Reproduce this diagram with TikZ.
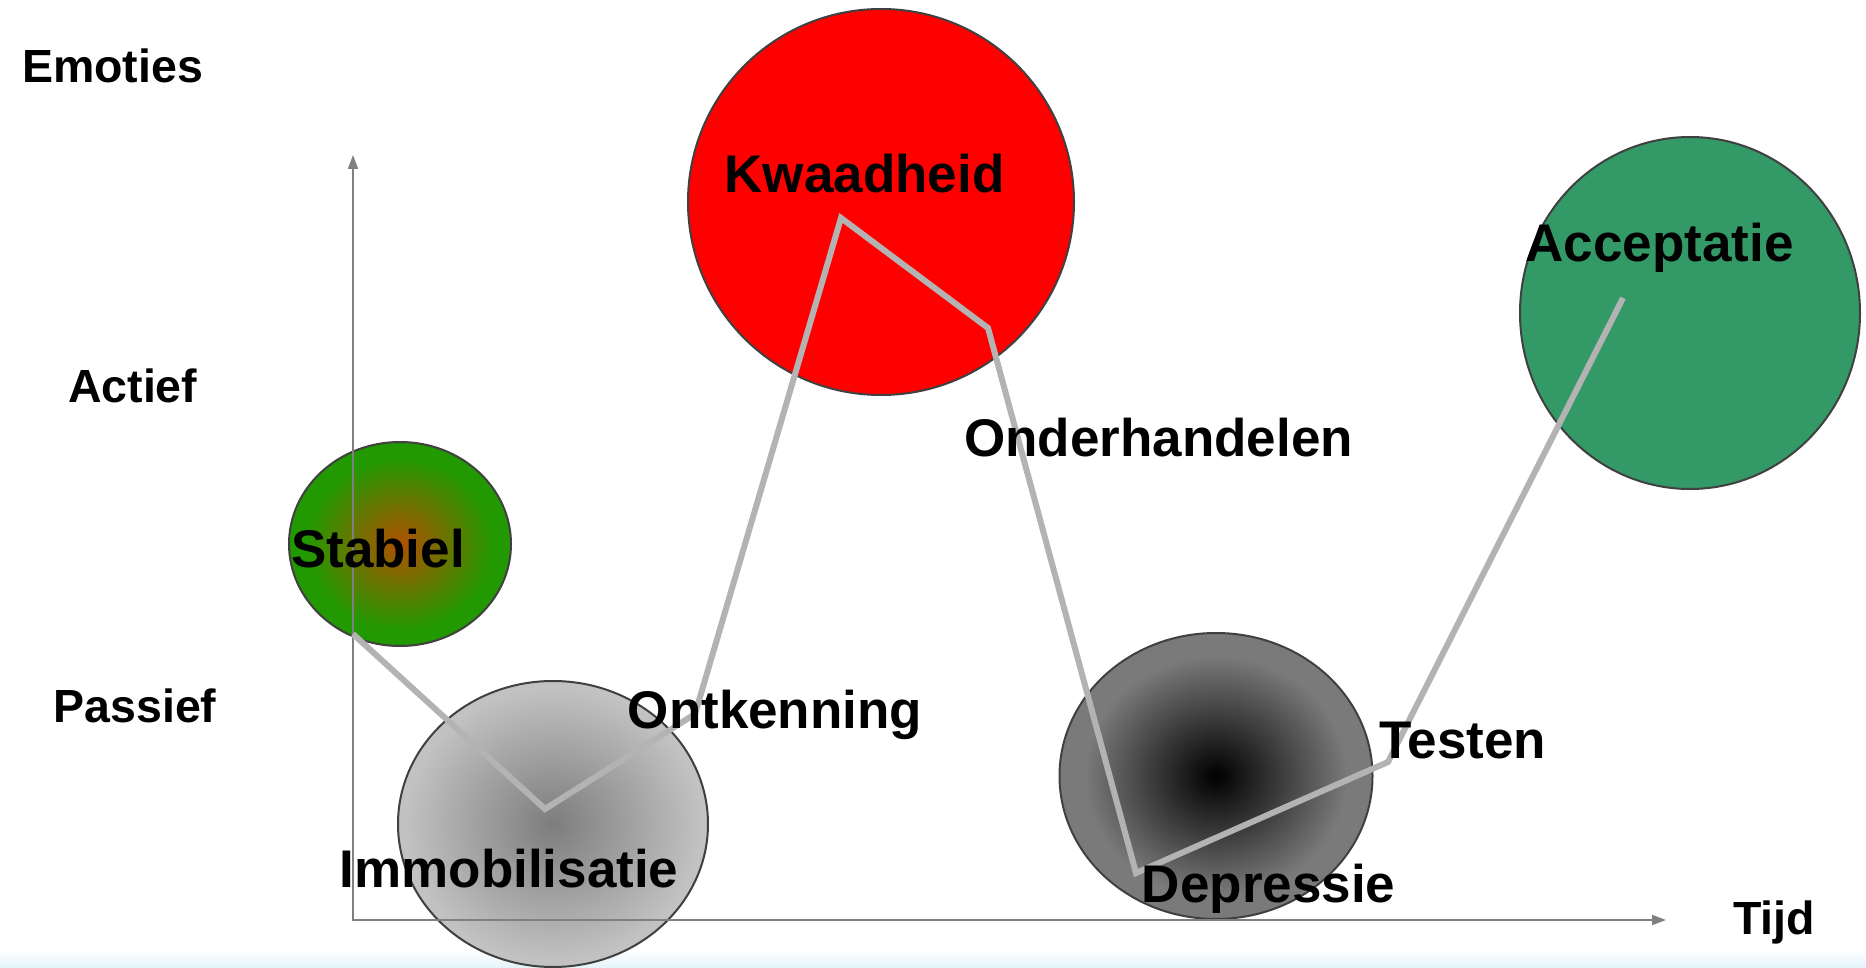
\documentclass[tikz,border=0pt]{standalone}
\usepackage{fontspec}
\setmainfont{Liberation Sans}
\usetikzlibrary{shapes.geometric,arrows.meta}
\definecolor{stabin}{RGB}{176,80,0}
\definecolor{stabout}{RGB}{34,153,0}
\definecolor{immin}{RGB}{125,125,125}
\definecolor{immout}{RGB}{194,194,194}
\definecolor{depin}{RGB}{0,0,0}
\definecolor{depout}{RGB}{122,122,122}
\definecolor{accgreen}{RGB}{51,153,102}
\definecolor{pathgray}{RGB}{179,179,179}
\definecolor{axisgray}{RGB}{128,128,128}
\definecolor{rimgray}{RGB}{64,64,64}
\definecolor{bandcyan}{RGB}{226,243,250}
\pgfdeclareradialshading{stabshade}{\pgfpoint{0bp}{0bp}}{color(0bp)=(stabin); color(21bp)=(stabout); color(50bp)=(stabout)}
\pgfdeclareradialshading{immshade}{\pgfpoint{0bp}{0bp}}{color(0bp)=(immin); color(24bp)=(immout); color(50bp)=(immout)}
\pgfdeclareradialshading{depshade}{\pgfpoint{0bp}{0bp}}{color(0bp)=(depin); color(21bp)=(depout); color(50bp)=(depout)}
\tikzset{
  blob/.style={ellipse, draw=rimgray, line width=2pt, inner sep=0pt},
  stage/.style={font=\bfseries\fontsize{53}{60}\selectfont, anchor=base, inner sep=0pt},
  axislab/.style={font=\bfseries\fontsize{46.5}{54}\selectfont, anchor=base, inner sep=0pt},
  axisline/.style={draw=axisgray, line width=2pt},
  trail/.style={draw=pathgray, line width=6pt, line join=miter}
}
\begin{document}
\begin{tikzpicture}[x=1pt,y=-1pt]
\useasboundingbox (0,0) rectangle (1866,968);
\fill[white] (0,0) rectangle (1866,968);
\shade[top color=white, bottom color=bandcyan] (0,950) rectangle (1866,968);

% blobs
\node[blob, shading=stabshade, minimum width=222pt, minimum height=204pt] (stabblob) at (400,544) {};
\node[blob, shading=immshade, minimum width=310pt, minimum height=286pt] (immblob) at (553,824) {};
\node[blob, fill=red, minimum width=386pt, minimum height=386pt] (kwblob) at (881,202) {};
\node[blob, shading=depshade, minimum width=313pt, minimum height=286pt] (depblob) at (1216,776) {};
\node[blob, fill=accgreen, minimum width=340pt, minimum height=352pt] (accblob) at (1690,313) {};

% axes
\coordinate (ytop) at (353,155);
\coordinate (origin) at (353,920);
\coordinate (xend) at (1666,920);
\draw[axisline, {Triangle[length=14pt,width=10pt]}-{Triangle[length=14pt,width=10pt]}] (ytop) -- (origin) -- (xend);

% trail
\coordinate (p1) at (353,634);
\coordinate (p2) at (545,809);
\coordinate (p3) at (695,714);
\coordinate (p4) at (841,218);
\coordinate (p5) at (988,328);
\coordinate (p6) at (1136,873);
\coordinate (p7) at (1388,762);
\coordinate (p8) at (1623,298);
\draw[trail] (p1) -- (p2) -- (p3) -- (p4) -- (p5) -- (p6) -- (p7) -- (p8);

% axis labels
\node[axislab] (emoties) at (112.5,83) {Emoties};
\node[axislab] (actief) at (132.7,402) {Actief};
\node[axislab] (passief) at (135,722) {Passief};
\node[axislab] (tijd) at (1774,934) {Tijd};

% stage labels
\node[stage] (kwaad) at (864.6,193) {Kwaadheid};
\node[stage] (stab) at (378,567) {Stabiel};
\node[stage] (ontk) at (775,728) {Ontkenning};
\node[stage] (onder) at (1158.5,456) {Onderhandelen};
\node[stage] (immo) at (509,887) {Immobilisatie};
\node[stage] (depr) at (1268.6,902) {Depressie};
\node[stage] (test) at (1462.6,758) {Testen};
\node[stage] (acc) at (1659.5,262) {Acceptatie};
\end{tikzpicture}
\end{document}
